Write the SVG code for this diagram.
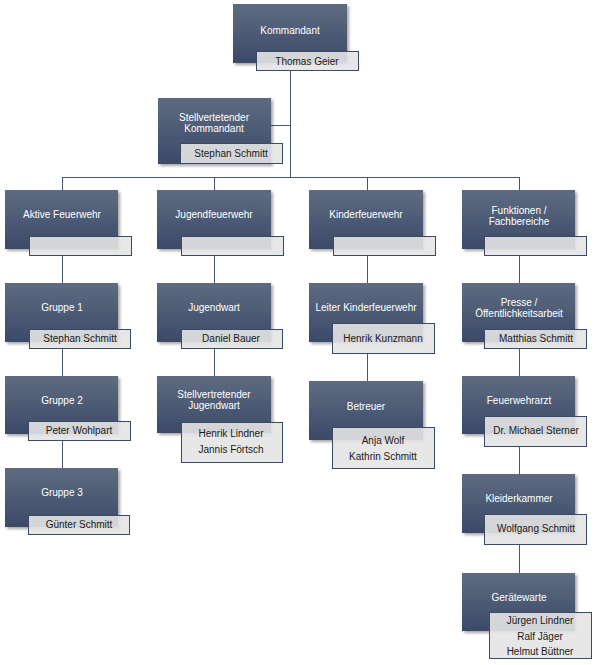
<svg xmlns="http://www.w3.org/2000/svg" width="596" height="665" viewBox="0 0 596 665">
<defs>
<linearGradient id="g" x1="0" y1="0" x2="0" y2="1">
<stop offset="0" stop-color="#5f6b81"/>
<stop offset="1" stop-color="#3b4a68"/>
</linearGradient>
<filter id="sh" x="-10%" y="-10%" width="130%" height="130%">
<feDropShadow dx="2" dy="2" stdDeviation="1.5" flood-color="#000" flood-opacity="0.35"/>
</filter>
</defs>
<style>
.b{fill:url(#g);filter:url(#sh)}
.n{fill:#e4e4e4;fill-opacity:0.9;stroke:#3b4a68;stroke-width:1}
.t{font-family:"Liberation Sans",Arial,sans-serif;font-size:10px;fill:#ffffff;text-anchor:middle}
.p{font-family:"Liberation Sans",Arial,sans-serif;font-size:10px;fill:#1a1a1a;text-anchor:middle}
.c{stroke:#4a5670;stroke-width:1;fill:none}
</style>
<rect width="596" height="665" fill="#ffffff"/>
<g id="connectors">
<path class="c" d="M290.5 70V177.5M62.5 177.5H519.5M271 125.5H290.5"/>
<path class="c" d="M62.5 177V190M62.5 256V283M62.5 348V376M62.5 441V468"/>
<path class="c" d="M214.5 177V190M214.5 256V283M214.5 348V376"/>
<path class="c" d="M367.5 177V190M367.5 256V283M367.5 354V381"/>
<path class="c" d="M519.5 177V190M519.5 256V283M519.5 349V376M519.5 447V474M519.5 545V573"/>
</g>
<g id="kommandant">
<rect class="b" x="233" y="4" width="114" height="59"/>
<text class="t" x="290" y="34">Kommandant</text>
<rect class="n" x="256.5" y="51.5" width="102" height="19"/>
<text class="p" x="307" y="64.5">Thomas Geier</text>
</g>
<g id="stellv-kommandant">
<rect class="b" x="158" y="98" width="113" height="66"/>
<text class="t" x="214" y="121">Stellvertetender</text>
<text class="t" x="214" y="132">Kommandant</text>
<rect class="n" x="180.5" y="143.5" width="102" height="20"/>
<text class="p" x="231" y="157">Stephan Schmitt</text>
</g>
<g id="aktive">
<rect class="b" x="5" y="190" width="113" height="59"/>
<text class="t" x="62" y="218">Aktive Feuerwehr</text>
<rect class="n" x="29.5" y="236.5" width="102" height="19"/>
</g>
<g id="jugend">
<rect class="b" x="157" y="190" width="114" height="59"/>
<text class="t" x="214" y="218">Jugendfeuerwehr</text>
<rect class="n" x="181.5" y="236.5" width="102" height="19"/>
</g>
<g id="kinder">
<rect class="b" x="309" y="190" width="114" height="59"/>
<text class="t" x="366" y="218">Kinderfeuerwehr</text>
<rect class="n" x="333.5" y="236.5" width="102" height="19"/>
</g>
<g id="funktionen">
<rect class="b" x="462" y="190" width="113" height="59"/>
<text class="t" x="519" y="214">Funktionen /</text>
<text class="t" x="519" y="225">Fachbereiche</text>
<rect class="n" x="484.5" y="236.5" width="102" height="19"/>
</g>
<g id="gruppe1">
<rect class="b" x="5" y="283" width="113" height="59"/>
<text class="t" x="62" y="311">Gruppe 1</text>
<rect class="n" x="29.5" y="329.5" width="101" height="19"/>
<text class="p" x="80" y="342">Stephan Schmitt</text>
</g>
<g id="gruppe2">
<rect class="b" x="5" y="376" width="113" height="58"/>
<text class="t" x="62" y="404">Gruppe 2</text>
<rect class="n" x="28.5" y="421.5" width="102" height="19"/>
<text class="p" x="79" y="434">Peter Wohlpart</text>
</g>
<g id="gruppe3">
<rect class="b" x="5" y="468" width="113" height="59"/>
<text class="t" x="62" y="496">Gruppe 3</text>
<rect class="n" x="28.5" y="515.5" width="101" height="19"/>
<text class="p" x="79" y="528">Günter Schmitt</text>
</g>
<g id="jugendwart">
<rect class="b" x="157" y="283" width="114" height="59"/>
<text class="t" x="214" y="311">Jugendwart</text>
<rect class="n" x="181.5" y="329.5" width="101" height="19"/>
<text class="p" x="231" y="342">Daniel Bauer</text>
</g>
<g id="stellv-jugendwart">
<rect class="b" x="157" y="376" width="114" height="57"/>
<text class="t" x="214" y="398">Stellvertretender</text>
<text class="t" x="214" y="409">Jugendwart</text>
<rect class="n" x="181.5" y="422.5" width="101" height="40"/>
<text class="p" x="231" y="437">Henrik Lindner</text>
<text class="p" x="231" y="453">Jannis Förtsch</text>
</g>
<g id="leiter-kinder">
<rect class="b" x="309" y="283" width="114" height="59"/>
<text class="t" x="366" y="311">Leiter Kinderfeuerwehr</text>
<rect class="n" x="332.5" y="323.5" width="102" height="30"/>
<text class="p" x="383" y="342">Henrik Kunzmann</text>
</g>
<g id="betreuer">
<rect class="b" x="309" y="381" width="114" height="59"/>
<text class="t" x="366" y="410">Betreuer</text>
<rect class="n" x="332.5" y="427.5" width="102" height="41"/>
<text class="p" x="383" y="444">Anja Wolf</text>
<text class="p" x="383" y="460">Kathrin Schmitt</text>
</g>
<g id="presse">
<rect class="b" x="462" y="283" width="113" height="59"/>
<text class="t" x="519" y="306">Presse /</text>
<text class="t" x="519" y="317">Öffentlichkeitsarbeit</text>
<rect class="n" x="484.5" y="329.5" width="102" height="19"/>
<text class="p" x="536" y="342">Matthias Schmitt</text>
</g>
<g id="arzt">
<rect class="b" x="462" y="376" width="113" height="58"/>
<text class="t" x="519" y="404">Feuerwehrarzt</text>
<rect class="n" x="484.5" y="416.5" width="102" height="30"/>
<text class="p" x="536" y="434">Dr. Michael Sterner</text>
</g>
<g id="kleiderkammer">
<rect class="b" x="462" y="474" width="113" height="59"/>
<text class="t" x="519" y="502">Kleiderkammer</text>
<rect class="n" x="484.5" y="514.5" width="102" height="30"/>
<text class="p" x="536" y="532">Wolfgang Schmitt</text>
</g>
<g id="geraetewarte">
<rect class="b" x="462" y="573" width="113" height="58"/>
<text class="t" x="519" y="601">Gerätewarte</text>
<rect class="n" x="489.5" y="612.5" width="102" height="46"/>
<text class="p" x="540" y="624">Jürgen Lindner</text>
<text class="p" x="540" y="640">Ralf Jäger</text>
<text class="p" x="540" y="655">Helmut Büttner</text>
</g>
</svg>
